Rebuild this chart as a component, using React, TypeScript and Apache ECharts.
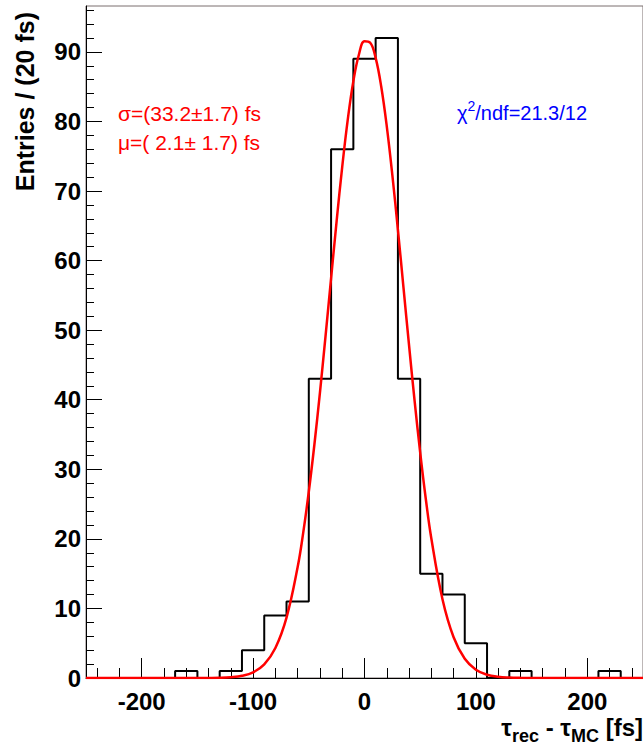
import React, { useEffect, useRef } from "react";
import * as echarts from "echarts";

// Histogram: lower bin edges (fs), bin width 20 fs, entries per bin
const binLowEdges = [-250, -230, -210, -190, -170, -150, -130, -110, -90, -70, -50, -30, -10, 10, 30, 50, 70, 90, 110, 130, 150, 170, 190, 210, 230];
const binWidth = 20;
const counts = [0, 0, 0, 0, 1, 0, 1, 4, 9, 11, 43, 76, 89, 92, 43, 15, 12, 5, 0, 1, 0, 0, 0, 1, 0];

// Fit curve
const fitX = [-250, -240, -230, -220, -210, -200, -190, -180, -170, -160, -150, -140, -130, -120, -110, -100, -90, -80, -70, -60, -55, -50, -45, -40, -35, -30, -25, -20, -15, -10, -5, 0, 5, 10, 15, 20, 25, 30, 35, 40, 45, 50, 55, 60, 70, 80, 90, 100, 110, 120, 130, 140, 150, 160, 170, 180, 190, 200, 210, 220, 230, 240, 250];
const fitY = [0, 0, 0, 0, 0, 0, 0, 0, 0, 0, 0.003, 0.01, 0.03, 0.11, 0.31, 0.81, 1.96, 4.31, 8.68, 15.95, 20.9, 26.77, 33.53, 41.04, 49.11, 57.46, 65.72, 73.48, 80.31, 85.8, 89.63, 91.52, 91.35, 89.14, 85.03, 79.3, 72.29, 64.42, 56.12, 47.8, 39.8, 32.39, 25.77, 20.05, 11.33, 5.85, 2.76, 1.19, 0.47, 0.17, 0.06, 0.02, 0.004, 0, 0, 0, 0, 0, 0, 0, 0, 0, 0];

const xMajorTicks = [-200, -100, 0, 100, 200];
const xMinorTicks = [-240, -220, -180, -160, -140, -120, -80, -60, -40, -20, 20, 40, 60, 80, 120, 140, 160, 180, 220, 240];
const yMajorTicks = [0, 10, 20, 30, 40, 50, 60, 70, 80, 90];
const yMinorTicks = [2, 4, 6, 8, 12, 14, 16, 18, 22, 24, 26, 28, 32, 34, 36, 38, 42, 44, 46, 48, 52, 54, 56, 58, 62, 64, 66, 68, 72, 74, 76, 78, 82, 84, 86, 88, 92, 94, 96];

const xMin = -250;
const xMax = 250;
const yMin = 0;
const yMax = 96.6;

const sigmaText = "σ=(33.2±1.7) fs";
const muText = "μ=( 2.1± 1.7) fs";
const chiText = "{m|χ}{sup|2}{m|/ndf=21.3/12}";
const yTitle = "Entries / (20 fs)";
const xTitle = "{m|τ}{s|rec}{m| - τ}{s|MC}{m| [fs]}";

const FONT = "'Liberation Sans', Arial, Helvetica, sans-serif";

export default function App() {
  const ref = useRef<HTMLDivElement>(null);

  useEffect(() => {
    if (!ref.current) return;
    const chart = echarts.init(ref.current, null, { renderer: "svg" });

    const histData: number[][] = [];
    binLowEdges.forEach((lo, i) => {
      histData.push([lo, counts[i]]);
      histData.push([lo + binWidth, counts[i]]);
    });
    const fitData = fitX.map((x, i) => [x, fitY[i]]);

    const baseX = {
      type: "value" as const,
      min: xMin,
      max: xMax,
      position: "bottom" as const,
      splitLine: { show: false },
    };
    const baseY = {
      type: "value" as const,
      min: yMin,
      max: yMax,
      position: "left" as const,
      splitLine: { show: false },
    };

    chart.setOption({
      animation: false,
      backgroundColor: "#ffffff",
      grid: {
        left: 86,
        top: 6,
        width: 563,
        height: 672,
        show: true,
        borderColor: "#7a6f6f",
        borderWidth: 1,
        backgroundColor: "transparent",
      },
      xAxis: [
        {
          ...baseX,
          axisLine: { show: true, onZero: false, lineStyle: { color: "#000", width: 1 } },
          axisTick: { show: true, inside: true, length: 20, customValues: xMajorTicks, lineStyle: { color: "#000", width: 1 } },
          axisLabel: {
            show: true,
            customValues: xMajorTicks,
            fontSize: 24,
            fontWeight: "bold",
            fontFamily: FONT,
            color: "#000",
            margin: 11,
          },
        },
        {
          ...baseX,
          axisLine: { show: false, onZero: false },
          axisTick: { show: true, inside: true, length: 10, customValues: xMinorTicks, lineStyle: { color: "#000", width: 1 } },
          axisLabel: { show: false },
        },
      ],
      yAxis: [
        {
          ...baseY,
          axisLine: { show: true, onZero: false, lineStyle: { color: "#000", width: 1 } },
          axisTick: { show: true, inside: true, length: 16, customValues: yMajorTicks, lineStyle: { color: "#000", width: 1 } },
          axisLabel: {
            show: true,
            customValues: yMajorTicks,
            fontSize: 24,
            fontWeight: "bold",
            fontFamily: FONT,
            color: "#000",
            margin: 5,
          },
        },
        {
          ...baseY,
          axisLine: { show: false, onZero: false },
          axisTick: { show: true, inside: true, length: 8, customValues: yMinorTicks, lineStyle: { color: "#000", width: 1 } },
          axisLabel: { show: false },
        },
      ],
      series: [
        {
          type: "line",
          xAxisIndex: 0,
          yAxisIndex: 0,
          data: histData,
          showSymbol: false,
          symbol: "none",
          lineStyle: { color: "#000", width: 2 },
          z: 3,
        },
        {
          type: "line",
          xAxisIndex: 0,
          yAxisIndex: 0,
          data: fitData,
          showSymbol: false,
          symbol: "none",
          smooth: 0.4,
          lineStyle: { color: "#ff0000", width: 2.5 },
          z: 4,
        },
      ],
      graphic: [
        {
          type: "text",
          x: 25,
          y: 12,
          rotation: Math.PI / 2,
          style: {
            text: yTitle,
            fontSize: 25,
            fontWeight: "bold",
            fontFamily: FONT,
            fill: "#000",
            align: "right",
            verticalAlign: "middle",
          },
        },
        {
          type: "text",
          x: 118,
          y: 113,
          style: {
            text: sigmaText,
            fontSize: 21,
            fontFamily: FONT,
            fill: "#ff0000",
            align: "left",
            verticalAlign: "middle",
          },
        },
        {
          type: "text",
          x: 118,
          y: 142,
          style: {
            text: muText,
            fontSize: 21,
            fontFamily: FONT,
            fill: "#ff0000",
            align: "left",
            verticalAlign: "middle",
          },
        },
        {
          type: "text",
          x: 457,
          y: 113,
          style: {
            text: chiText,
            fontFamily: FONT,
            fill: "#0000ff",
            align: "left",
            verticalAlign: "middle",
            rich: {
              m: { fontSize: 20, fontFamily: FONT, fill: "#0000ff" },
              sup: { fontSize: 14, fontFamily: FONT, fill: "#0000ff", padding: [0, 0, 14, 0] },
            },
          },
        },
        {
          type: "text",
          x: 643,
          y: 727,
          style: {
            text: xTitle,
            fontFamily: FONT,
            fill: "#000",
            align: "right",
            verticalAlign: "middle",
            rich: {
              m: { fontSize: 24, fontWeight: "bold", fontFamily: FONT, fill: "#000" },
              s: { fontSize: 18, fontWeight: "bold", fontFamily: FONT, fill: "#000", padding: [18, 0, 0, 0] },
            },
          },
        },
      ],
    });

    return () => {
      chart.dispose();
    };
  }, []);

  return (
    <div
      ref={ref}
      style={{ position: "fixed", left: 0, top: 0, width: 643, height: 751, background: "#fff" }}
    />
  );
}
